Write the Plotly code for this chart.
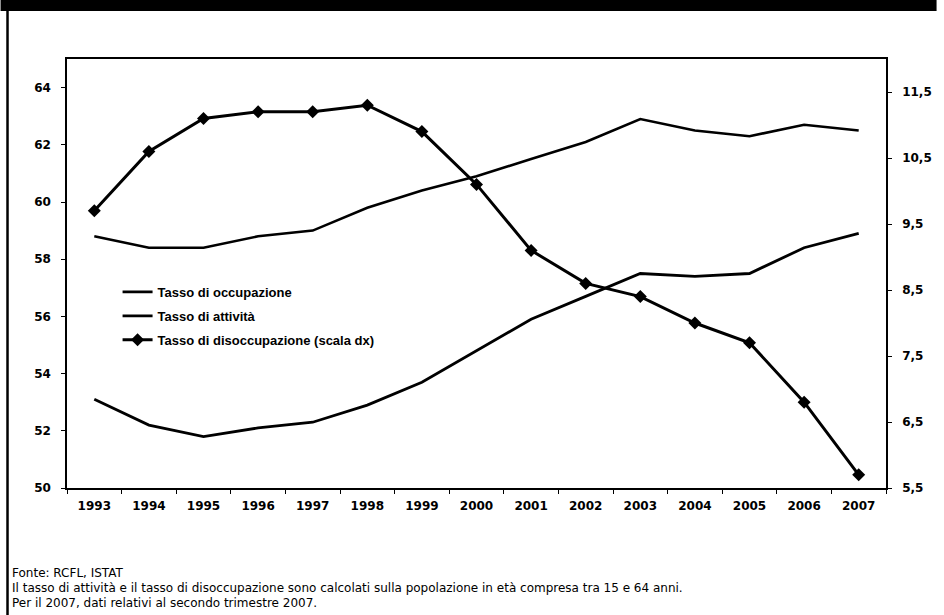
import plotly.graph_objects as go

# Anni di riferimento
anni = ["1993", "1994", "1995", "1996", "1997", "1998", "1999", "2000",
        "2001", "2002", "2003", "2004", "2005", "2006", "2007"]

# Tassi (%) - scala sinistra
occupazione = [53.1, 52.2, 51.8, 52.1, 52.3, 52.9, 53.7, 54.8,
               55.9, 56.7, 57.5, 57.4, 57.5, 58.4, 58.9]
attivita = [58.8, 58.4, 58.4, 58.8, 59.0, 59.8, 60.4, 60.9,
            61.5, 62.1, 62.9, 62.5, 62.3, 62.7, 62.5]

# Tasso di disoccupazione (%) - scala destra
disoccupazione = [9.7, 10.6, 11.1, 11.2, 11.2, 11.3, 10.9, 10.1,
                  9.1, 8.6, 8.4, 8.0, 7.7, 6.8, 5.7]

nomi_serie = ["Tasso di occupazione", "Tasso di attività",
              "Tasso di disoccupazione (scala dx)"]

tick_sx = [50, 52, 54, 56, 58, 60, 62, 64]
tick_dx = [5.5, 6.5, 7.5, 8.5, 9.5, 10.5, 11.5]

note = [
    "Fonte: RCFL, ISTAT",
    "Il tasso di attività e il tasso di disoccupazione sono calcolati sulla popolazione in età compresa tra 15 e 64 anni.",
    "Per il 2007, dati relativi al secondo trimestre 2007.",
]

FONT = "Liberation Sans, Arial, sans-serif"
FONT_LARGO = "DejaVu Sans, Verdana, sans-serif"
W, H = 944, 615
L, R, T, B = 67, 51, 59, 127
PW, PH = W - L - R, H - T - B


def px_x(x):
    return (x - L) / PW


def px_y(y):
    return (H - B - y) / PH


fig = go.Figure()
fig.add_trace(go.Scatter(
    x=anni, y=occupazione, name=nomi_serie[0], mode="lines",
    line=dict(color="black", width=2.8), legendgroup="a",
))
fig.add_trace(go.Scatter(
    x=anni, y=attivita, name=nomi_serie[1], mode="lines",
    line=dict(color="black", width=2.6), legendgroup="b",
))
fig.add_trace(go.Scatter(
    x=anni, y=disoccupazione, name=nomi_serie[2], mode="lines+markers",
    line=dict(color="black", width=3),
    marker=dict(symbol="diamond", size=10, color="black"),
    yaxis="y2", legendgroup="c",
))

axis_font = dict(family=FONT_LARGO, size=12, color="black", weight="bold")

fig.update_layout(
    width=W, height=H,
    margin=dict(l=L, r=R, t=T, b=B, pad=0),
    paper_bgcolor="white", plot_bgcolor="white",
    separators=",.",
    showlegend=True,
    legend=dict(
        x=px_x(118), y=px_y(277), xanchor="left", yanchor="top",
        bgcolor="rgba(0,0,0,0)", borderwidth=0,
        font=dict(family=FONT, size=13, color="black", weight="bold"),
        tracegroupgap=4, itemwidth=30,
    ),
    xaxis=dict(
        type="category", range=[-0.5, 14.5],
        showline=True, linecolor="black", linewidth=1.5, mirror=True,
        ticks="outside", ticklen=4, tickcolor="black", tickson="boundaries",
        showgrid=False, zeroline=False, tickfont=axis_font,
        ticklabelstandoff=6,
    ),
    yaxis=dict(
        range=[50, 65], tickvals=tick_sx,
        showline=True, linecolor="black", linewidth=1.5,
        ticks="outside", ticklen=4, tickcolor="black",
        showgrid=False, zeroline=False, tickfont=axis_font,
        ticklabelstandoff=8,
    ),
    yaxis2=dict(
        range=[5.5, 12], tickvals=tick_dx, tickformat=".1f",
        overlaying="y", side="right",
        showline=True, linecolor="black", linewidth=1.5,
        ticks="outside", ticklen=4, tickcolor="black",
        showgrid=False, zeroline=False, tickfont=axis_font,
        ticklabelstandoff=8,
    ),
)

# Banda nera di intestazione e cornice sinistra
fig.add_shape(type="rect", xref="paper", yref="paper",
              x0=px_x(0), x1=px_x(W), y0=px_y(11), y1=px_y(0),
              fillcolor="black", line=dict(width=0), layer="above")
fig.add_shape(type="line", xref="paper", yref="paper",
              x0=px_x(7), x1=px_x(7), y0=px_y(11), y1=px_y(H),
              line=dict(color="black", width=2.5), layer="above")

# Note a piè di grafico
for riga, y in zip(note, [573, 588, 603]):
    fig.add_annotation(
        text=riga, xref="paper", yref="paper",
        x=px_x(10), y=px_y(y), xanchor="left", yanchor="middle",
        showarrow=False,
        font=dict(family=FONT_LARGO, size=12, color="black"),
    )

fig.write_html("out.html")
